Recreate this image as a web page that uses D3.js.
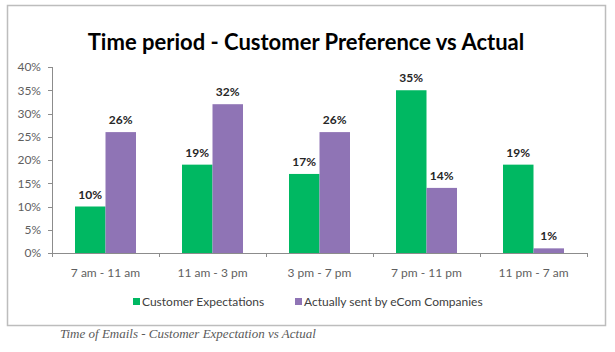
<!DOCTYPE html>
<html>
<head>
<meta charset="utf-8">
<title>Time period - Customer Preference vs Actual</title>
<script src="https://cdn.jsdelivr.net/npm/d3@7"></script>
<style>
body { margin: 0; background: #fff; font-family: Lato, "Open Sans", sans-serif; }
.axis path, .axis line { stroke: #8c8c8c; shape-rendering: crispEdges; }
.axis text { fill: #5f5f5f; font-size: 12px; font-family: Lato, sans-serif; }
.lbl { font-weight: bold; font-size: 12px; fill: #262626; }
</style>
</head>
<body>
<script>
var categories = ["7 am - 11 am", "11 am - 3 pm", "3 pm - 7 pm", "7 pm - 11 pm", "11 pm - 7 am"];
var expectations = [10, 19, 17, 35, 19];
var actual = [26, 32, 26, 14, 1];
var seriesNames = ["Customer Expectations", "Actually sent by eCom Companies"];
var yTicks = [0, 5, 10, 15, 20, 25, 30, 35, 40];

var colors = ["#00b862", "#8f74b5"];
var W = 615, H = 352;
var margin = {top: 67, left: 52, right: 28, bottom: 99};

var svg = d3.select("body").append("svg")
    .attr("width", W)
    .attr("height", H);

// chart frame
svg.append("rect")
    .attr("x", 7.5).attr("y", 5.5)
    .attr("width", 598).attr("height", 320)
    .attr("fill", "#fff")
    .attr("stroke", "#bdbdbd")
    .attr("stroke-width", 1.5);

svg.append("text")
    .attr("x", 306).attr("y", 50)
    .attr("text-anchor", "middle")
    .style("font-family", "Lato, sans-serif")
    .style("font-weight", "bold")
    .style("font-size", "22px")
    .attr("fill", "#000")
    .text("Time period - Customer Preference vs Actual");

var width = W - margin.left - margin.right;   // 535
var height = H - margin.top - margin.bottom;  // ~186

var g = svg.append("g")
    .attr("transform", "translate(" + margin.left + "," + margin.top + ")");

var x0 = d3.scaleBand().domain(categories).range([0, width])
    .paddingInner(0.43).paddingOuter(0.215);
var x1 = d3.scaleBand().domain([0, 1]).range([0, x0.bandwidth()]);
var y = d3.scaleLinear().domain([0, 40]).range([height, 0]);

// y axis
g.append("g")
    .attr("class", "axis")
    .call(d3.axisLeft(y).tickValues(yTicks).tickSize(4).tickSizeOuter(4)
        .tickFormat(function(d) { return d + "%"; }))
    .call(function(a) { a.selectAll("text").attr("x", -11); });

var data = categories.map(function(c, i) {
    return {cat: c, vals: [expectations[i], actual[i]]};
});

var groups = g.selectAll(".grp")
    .data(data)
    .enter().append("g")
    .attr("class", "grp")
    .attr("transform", function(d) { return "translate(" + x0(d.cat) + ",0)"; });

groups.selectAll("rect")
    .data(function(d) { return d.vals; })
    .enter().append("rect")
    .attr("x", function(d, i) { return x1(i); })
    .attr("y", function(d) { return y(d); })
    .attr("width", x1.bandwidth())
    .attr("height", function(d) { return height - y(d); })
    .attr("fill", function(d, i) { return colors[i]; });

groups.selectAll(".lbl")
    .data(function(d) { return d.vals; })
    .enter().append("text")
    .attr("class", "lbl")
    .attr("x", function(d, i) { return x1(i) + x1.bandwidth() / 2; })
    .attr("y", function(d) { return y(d) - 8; })
    .attr("text-anchor", "middle")
    .text(function(d) { return d + "%"; });

// x axis: ticks at category boundaries
var xAxisG = g.append("g")
    .attr("class", "axis")
    .attr("transform", "translate(0," + height + ")");
xAxisG.append("line")
    .attr("x1", 0).attr("x2", width).attr("y1", 0.5).attr("y2", 0.5);
xAxisG.selectAll(".bt")
    .data(d3.range(categories.length + 1))
    .enter().append("line")
    .attr("x1", function(i) { return Math.round(x0.step() * i) + 0.5; })
    .attr("x2", function(i) { return Math.round(x0.step() * i) + 0.5; })
    .attr("y1", 0).attr("y2", 4);
xAxisG.selectAll(".cl")
    .data(categories)
    .enter().append("text")
    .attr("x", function(d) { return x0(d) + x0.bandwidth() / 2; })
    .attr("y", 24)
    .attr("text-anchor", "middle")
    .style("font-size", "12px")
    .attr("fill", "#404040")
    .text(function(d) { return d; });

// legend
var legendX = [133, 295];
var legend = svg.selectAll(".legend")
    .data(seriesNames)
    .enter().append("g")
    .attr("class", "legend")
    .attr("transform", function(d, i) { return "translate(" + legendX[i] + ",302)"; });
legend.append("rect")
    .attr("x", 0).attr("y", -4)
    .attr("width", 7).attr("height", 7)
    .attr("fill", function(d, i) { return colors[i]; });
legend.append("text")
    .attr("x", 9).attr("y", 4)
    .style("font-size", "12px")
    .attr("fill", "#404040")
    .text(function(d) { return d; });

// caption
svg.append("text")
    .attr("x", 60).attr("y", 338)
    .style("font-family", "'Liberation Serif', serif")
    .style("font-style", "italic")
    .style("font-size", "13px")
    .attr("fill", "#5a5a5a")
    .text("Time of Emails - Customer Expectation vs Actual");
</script>
</body>
</html>
